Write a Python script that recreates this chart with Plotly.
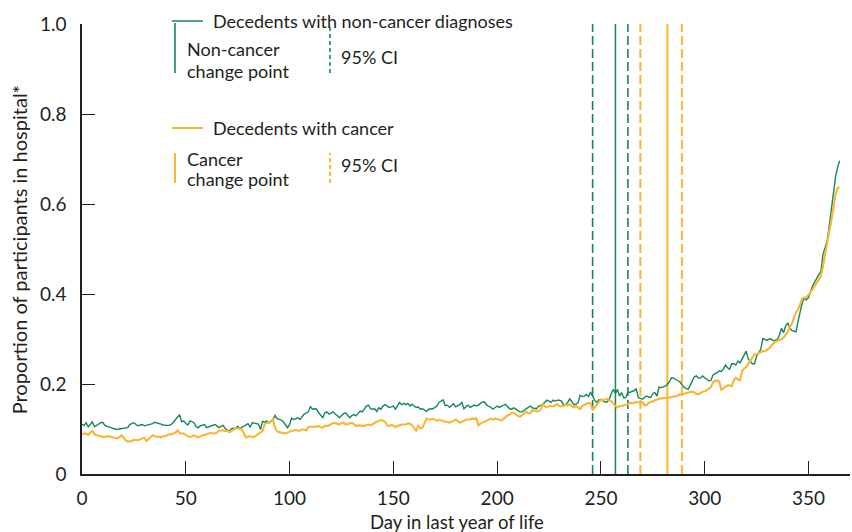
import plotly.graph_objects as go

# ---- data ----
non_cancer = [
    0.110,0.108,0.114,0.105,0.110,0.116,0.105,0.108,0.110,0.114,
    0.115,0.108,0.106,0.105,0.103,0.101,0.100,0.099,0.100,0.101,
    0.101,0.102,0.103,0.110,0.112,0.114,0.110,0.107,0.109,0.110,
    0.107,0.108,0.109,0.110,0.112,0.115,0.114,0.112,0.111,0.109,
    0.108,0.108,0.108,0.110,0.115,0.120,0.126,0.132,0.116,0.118,
    0.112,0.109,0.118,0.116,0.114,0.105,0.103,0.107,0.109,0.110,
    0.103,0.105,0.107,0.109,0.110,0.107,0.103,0.106,0.108,0.101,
    0.097,0.095,0.101,0.102,0.101,0.106,0.101,0.104,0.108,0.110,
    0.112,0.104,0.114,0.113,0.112,0.111,0.099,0.117,0.115,0.118,
    0.113,0.116,0.121,0.130,0.123,0.121,0.120,0.116,0.108,0.103,
    0.110,0.124,0.121,0.123,0.125,0.121,0.127,0.133,0.135,0.138,
    0.150,0.144,0.145,0.144,0.136,0.130,0.125,0.136,0.138,0.133,
    0.136,0.138,0.133,0.130,0.125,0.130,0.134,0.136,0.130,0.125,
    0.130,0.132,0.129,0.136,0.140,0.138,0.144,0.151,0.153,0.145,
    0.144,0.145,0.139,0.147,0.144,0.151,0.154,0.150,0.148,0.149,
    0.151,0.144,0.153,0.159,0.154,0.157,0.154,0.157,0.151,0.155,
    0.151,0.148,0.149,0.144,0.145,0.142,0.139,0.144,0.145,0.145,
    0.148,0.151,0.159,0.163,0.165,0.152,0.153,0.148,0.153,0.156,
    0.149,0.151,0.154,0.159,0.145,0.150,0.153,0.148,0.150,0.153,
    0.151,0.153,0.157,0.160,0.160,0.153,0.150,0.148,0.144,0.148,
    0.151,0.148,0.150,0.152,0.155,0.150,0.145,0.144,0.147,0.144,
    0.140,0.138,0.138,0.142,0.145,0.148,0.151,0.147,0.146,0.145,
    0.151,0.152,0.155,0.159,0.164,0.162,0.159,0.164,0.162,0.164,
    0.164,0.162,0.153,0.154,0.159,0.167,0.161,0.154,0.155,0.159,
    0.175,0.172,0.173,0.177,0.172,0.182,0.173,0.164,0.159,0.165,
    0.165,0.162,0.160,0.160,0.166,0.179,0.188,0.179,0.188,0.173,
    0.181,0.169,0.170,0.182,0.181,0.184,0.185,0.190,0.170,0.168,
    0.166,0.170,0.173,0.171,0.170,0.179,0.181,0.173,0.193,0.192,
    0.193,0.195,0.199,0.205,0.214,0.213,0.210,0.208,0.205,0.199,
    0.193,0.190,0.188,0.197,0.208,0.216,0.218,0.213,0.213,0.218,
    0.214,0.210,0.207,0.208,0.220,0.223,0.225,0.229,0.228,0.233,
    0.242,0.236,0.233,0.245,0.245,0.242,0.251,0.247,0.255,0.264,
    0.273,0.255,0.250,0.245,0.245,0.262,0.270,0.277,0.301,0.299,
    0.297,0.300,0.300,0.296,0.297,0.299,0.309,0.324,0.314,0.329,
    0.336,0.324,0.319,0.318,0.316,0.340,0.362,0.381,0.390,0.387,
    0.392,0.407,0.418,0.427,0.436,0.444,0.451,0.488,0.501,0.518,
    0.551,0.586,0.629,0.659,0.681,0.696,
]

cancer = [
    0.088,0.090,0.090,0.087,0.092,0.096,0.088,0.087,0.086,0.084,
    0.082,0.083,0.083,0.084,0.082,0.081,0.079,0.079,0.082,0.086,
    0.081,0.075,0.072,0.073,0.073,0.076,0.076,0.075,0.077,0.079,
    0.081,0.073,0.077,0.081,0.086,0.084,0.083,0.082,0.082,0.084,
    0.084,0.086,0.088,0.088,0.090,0.092,0.097,0.091,0.090,0.090,
    0.087,0.084,0.082,0.084,0.086,0.084,0.081,0.084,0.086,0.087,
    0.088,0.090,0.092,0.090,0.090,0.092,0.096,0.097,0.097,0.095,
    0.096,0.093,0.096,0.098,0.101,0.101,0.101,0.099,0.088,0.081,
    0.083,0.084,0.082,0.083,0.086,0.090,0.093,0.096,0.110,0.114,
    0.114,0.118,0.121,0.103,0.095,0.093,0.092,0.092,0.090,0.092,
    0.094,0.096,0.096,0.098,0.096,0.096,0.099,0.099,0.097,0.104,
    0.105,0.105,0.105,0.105,0.107,0.104,0.103,0.107,0.107,0.108,
    0.111,0.113,0.113,0.111,0.110,0.113,0.114,0.110,0.111,0.113,
    0.114,0.111,0.107,0.108,0.108,0.108,0.107,0.109,0.110,0.108,
    0.111,0.114,0.116,0.118,0.120,0.119,0.116,0.108,0.107,0.109,
    0.108,0.104,0.107,0.108,0.110,0.110,0.110,0.112,0.112,0.108,
    0.102,0.096,0.107,0.101,0.103,0.114,0.123,0.121,0.121,0.123,
    0.120,0.118,0.121,0.119,0.118,0.116,0.116,0.114,0.116,0.119,
    0.121,0.118,0.114,0.116,0.119,0.121,0.121,0.121,0.123,0.122,
    0.124,0.108,0.112,0.114,0.116,0.119,0.121,0.123,0.121,0.123,
    0.122,0.120,0.119,0.122,0.127,0.130,0.132,0.136,0.136,0.132,
    0.129,0.127,0.130,0.135,0.138,0.135,0.135,0.142,0.140,0.139,
    0.140,0.144,0.155,0.150,0.148,0.151,0.151,0.150,0.153,0.155,
    0.151,0.150,0.151,0.153,0.153,0.155,0.151,0.148,0.151,0.148,
    0.144,0.151,0.154,0.156,0.158,0.157,0.142,0.148,0.153,0.160,
    0.166,0.164,0.166,0.167,0.164,0.162,0.157,0.151,0.148,0.151,
    0.151,0.153,0.154,0.155,0.159,0.157,0.159,0.160,0.159,0.159,
    0.160,0.153,0.153,0.158,0.160,0.162,0.164,0.165,0.167,0.168,
    0.169,0.170,0.170,0.170,0.171,0.172,0.173,0.174,0.177,0.177,
    0.178,0.180,0.181,0.183,0.183,0.181,0.178,0.177,0.180,0.183,
    0.184,0.186,0.190,0.193,0.204,0.207,0.208,0.205,0.187,0.190,
    0.193,0.197,0.197,0.195,0.208,0.214,0.210,0.208,0.229,0.235,
    0.238,0.245,0.255,0.262,0.266,0.266,0.268,0.271,0.273,0.273,
    0.276,0.279,0.284,0.290,0.293,0.296,0.297,0.300,0.303,0.309,
    0.316,0.327,0.334,0.347,0.359,0.366,0.377,0.390,0.392,0.393,
    0.398,0.403,0.410,0.418,0.425,0.433,0.440,0.462,0.490,0.514,
    0.539,0.562,0.592,0.621,0.636,0.636,
]

days_nc = list(range(len(non_cancer)))
days_c = list(range(len(cancer)))

non_cancer_cp = 257
non_cancer_ci = [246, 263]
cancer_cp = 282
cancer_ci = [269, 289]

x_ticks = [0, 50, 100, 150, 200, 250, 300, 350]
y_ticks = [0, 0.2, 0.4, 0.6, 0.8, 1.0]
y_tick_text = ["0", "0.2", "0.4", "0.6", "0.8", "1.0"]

GREEN = "#138a54"
ORANGE = "#fbb535"
TXT = "#231f20"
FONT = "Lato"
FS = 18

fig = go.Figure()

# change points and CIs
for xv in non_cancer_ci:
    fig.add_vline(x=xv, line=dict(color=GREEN, width=1.6, dash="9px,4px"), layer="below")
fig.add_vline(x=non_cancer_cp, line=dict(color=GREEN, width=1.5), layer="below")
for xv in cancer_ci:
    fig.add_vline(x=xv, line=dict(color=ORANGE, width=2, dash="9px,4px"), layer="below")
fig.add_vline(x=cancer_cp, line=dict(color=ORANGE, width=2), layer="below")

fig.add_trace(go.Scatter(x=days_nc, y=non_cancer, mode="lines",
                         line=dict(color=GREEN, width=1.4), showlegend=False,
                         name="Decedents with non-cancer diagnoses"))
fig.add_trace(go.Scatter(x=days_c, y=cancer, mode="lines",
                         line=dict(color=ORANGE, width=2.1), showlegend=False,
                         name="Decedents with cancer"))

# custom legend (paper coordinates)
def hline(x0, x1, y, color, width=1.6):
    fig.add_shape(type="line", xref="paper", yref="paper", x0=x0, x1=x1, y0=y, y1=y,
                  line=dict(color=color, width=width))

def vline(x, y0, y1, color, width=1.6, dash=None):
    fig.add_shape(type="line", xref="paper", yref="paper", x0=x, x1=x, y0=y0, y1=y1,
                  line=dict(color=color, width=width, dash=dash))

def text(x, y, s, size=FS):
    fig.add_annotation(xref="paper", yref="paper", x=x, y=y, text=s, showarrow=False,
                       xanchor="left", yanchor="middle",
                       font=dict(family=FONT, size=size, color=TXT))

hline(0.117, 0.1576, 1.0067, GREEN)
text(0.168, 1.0067, "Decedents with non-cancer diagnoses")
vline(0.1211, 0.891, 1.0022, GREEN)
text(0.134, 0.944, "Non-cancer")
text(0.134, 0.8956, "change point")
vline(0.3229, 0.891, 1.0, GREEN, dash="4px,3px")
text(0.334, 0.9267, "95% CI")

hline(0.117, 0.1576, 0.7689, ORANGE, width=2)
text(0.168, 0.7689, "Decedents with cancer")
vline(0.1211, 0.6467, 0.7133, ORANGE, width=2)
text(0.134, 0.700, "Cancer")
text(0.134, 0.6556, "change point")
vline(0.3229, 0.6467, 0.7133, ORANGE, width=2, dash="4px,3px")
text(0.334, 0.6867, "95% CI")

# axis titles
fig.add_annotation(xref="paper", yref="paper", x=0.488, y=-0.107, text="Day in last year of life",
                   showarrow=False, xanchor="center", yanchor="middle",
                   font=dict(family=FONT, size=18.5, color=TXT))
fig.add_annotation(xref="paper", yref="paper", x=-0.082, y=0.497,
                   text="Proportion of participants in hospital*", textangle=-90,
                   showarrow=False, xanchor="center", yanchor="middle",
                   font=dict(family=FONT, size=20, color=TXT))

fig.update_layout(
    width=852, height=532,
    margin=dict(l=82, r=2, t=24, b=58, autoexpand=False),
    plot_bgcolor="white", paper_bgcolor="white",
    font=dict(family=FONT, size=FS, color=TXT),
    showlegend=False,
)
fig.update_xaxes(range=[0, 370], tickvals=x_ticks, ticks="inside", ticklen=13,
                 tickwidth=1.3, tickcolor=TXT, showline=True, linecolor=TXT, linewidth=1.5,
                 showgrid=False, zeroline=False, ticklabelstandoff=6, automargin=False,
                 tickfont=dict(family=FONT, size=19, color=TXT))
fig.update_yaxes(range=[0, 1.0], tickvals=y_ticks, ticktext=y_tick_text, ticks="inside",
                 ticklen=13, tickwidth=1.3, tickcolor=TXT, showline=True, linecolor=TXT,
                 linewidth=1.5, showgrid=False, zeroline=False, ticklabelstandoff=10,
                 automargin=False, tickfont=dict(family=FONT, size=19, color=TXT))

fig.write_html("out.html", config=dict(displayModeBar=False),
               post_script="document.body.style.margin='0';document.body.style.overflow='hidden';")
